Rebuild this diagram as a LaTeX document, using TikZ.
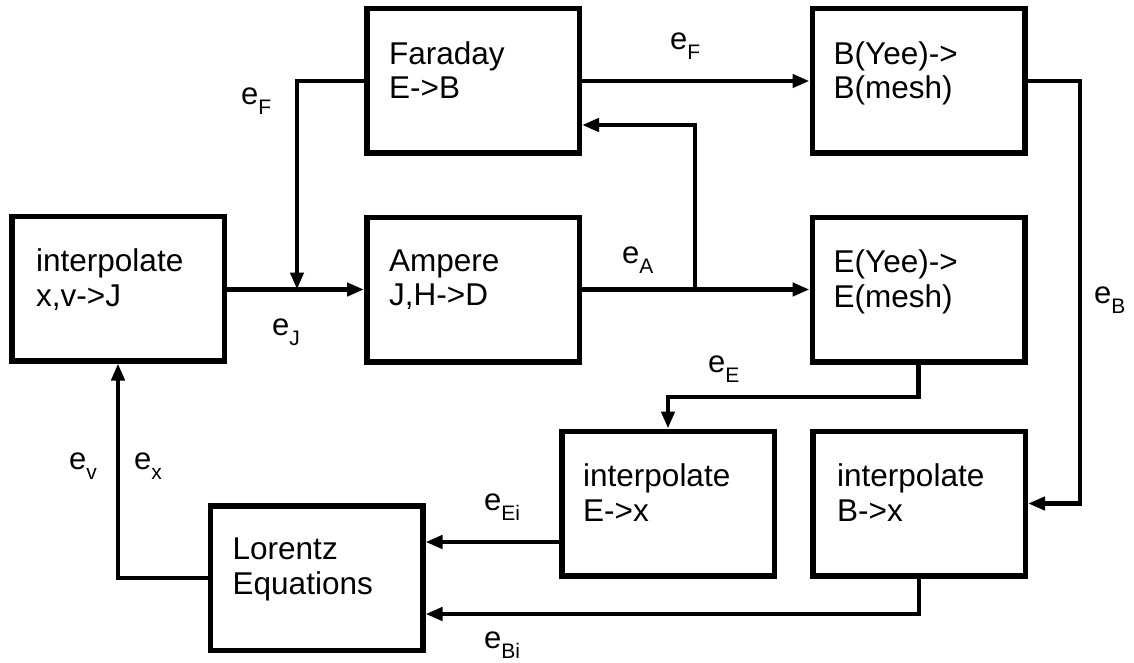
\documentclass[tikz,border=0pt]{standalone}
\usepackage{fontspec}
\setmainfont{Liberation Sans}
\usetikzlibrary{arrows.meta}
\newcommand\lowsub[1]{\raisebox{-10pt}{\fontsize{21}{21}\selectfont #1}}
\begin{document}
\begin{tikzpicture}[x=1pt,y=-1pt,
  box/.style={draw, line width=5.5pt, minimum width=212.5pt, minimum height=144.5pt, inner sep=0pt},
  txt/.style={anchor=north west, inner sep=0pt, align=left, font=\fontsize{31.5}{34.5}\selectfont},
  elbl/.style={anchor=base west, inner sep=0pt, font=\fontsize{31}{35}\selectfont},
  conn/.style={line width=4.6pt, -{Triangle[length=17pt,width=13pt]}}]
\useasboundingbox (0,0) rectangle (1134,663);
% boxes
\node[box] (i1)   at (118,288.5) {};
\node[box] (far)  at (473,81) {};
\node[box] (amp)  at (473,289.5) {};
\node[box] (byee) at (918.5,81) {};
\node[box] (eyee) at (918.5,289.5) {};
\node[box] (ie)   at (668,503.5) {};
\node[box] (ib)   at (919,503.5) {};
\node[box] (lor)  at (316.5,578) {};
% texts
\node[txt] (ti1)   at ([shift={(27pt,-35pt)}]i1.north west) {interpolate\\x,v->J};
\node[txt] (tfar)  at ([shift={(25pt,-35pt)}]far.north west) {Faraday\\E->B};
\node[txt] (tamp)  at ([shift={(25pt,-35pt)}]amp.north west) {Ampere\\J,H->D};
\node[txt] (tbyee) at ([shift={(24pt,-35pt)}]byee.north west) {B(Yee)->\\B(mesh)};
\node[txt] (teyee) at ([shift={(24pt,-35pt)}]eyee.north west) {E(Yee)->\\E(mesh)};
\node[txt] (tie)   at ([shift={(24pt,-35pt)}]ie.north west) {interpolate\\E->x};
\node[txt] (tib)   at ([shift={(27pt,-35pt)}]ib.north west) {interpolate\\B->x};
\node[txt] (tlor)  at ([shift={(25pt,-35pt)}]lor.north west) {Lorentz\\Equations};
% helper coordinates
\coordinate (jm)  at (297,289.5);
\coordinate (br)  at (695,289.5);
\coordinate (eE)  at (0,397);
\coordinate (cEi) at (0,542);
\coordinate (cBi) at (0,614);
% connectors
\draw[conn] (i1.east |- jm) -- (amp.west);
\draw[conn] (far.west) -| (jm);
\draw[conn] (amp.east) -- (eyee.west);
\draw[conn] (br) |- ([yshift=-44pt]far.east);
\draw[conn] (far.east) -- (byee.west);
\draw[conn] (byee.east) -| ([xshift=52pt]ib.east) -- (ib.east);
\draw[conn] (eyee.south) |- (ie.north |- eE) -- (ie.north);
\draw[conn] (ie.west |- cEi) -- (lor.east |- cEi);
\draw[conn] (ib.south) |- (lor.east |- cBi);
\draw[conn] (lor.west) -| (i1.south);
% labels
\node[elbl] (lF1) at (241,105) {e\lowsub{F}};
\node[elbl] (lF2) at (670,50) {e\lowsub{F}};
\node[elbl] (lA)  at (622,263) {e\lowsub{A}};
\node[elbl] (lB)  at (1094,303) {e\lowsub{B}};
\node[elbl] (lJ)  at (272,335) {e\lowsub{J}};
\node[elbl] (lE)  at (708,372) {e\lowsub{E}};
\node[elbl] (lv)  at (69,469) {e\lowsub{v}};
\node[elbl] (lx)  at (134,469) {e\lowsub{x}};
\node[elbl] (lEi) at (484,510) {e\lowsub{Ei}};
\node[elbl] (lBi) at (484,648) {e\lowsub{Bi}};
\end{tikzpicture}
\end{document}
